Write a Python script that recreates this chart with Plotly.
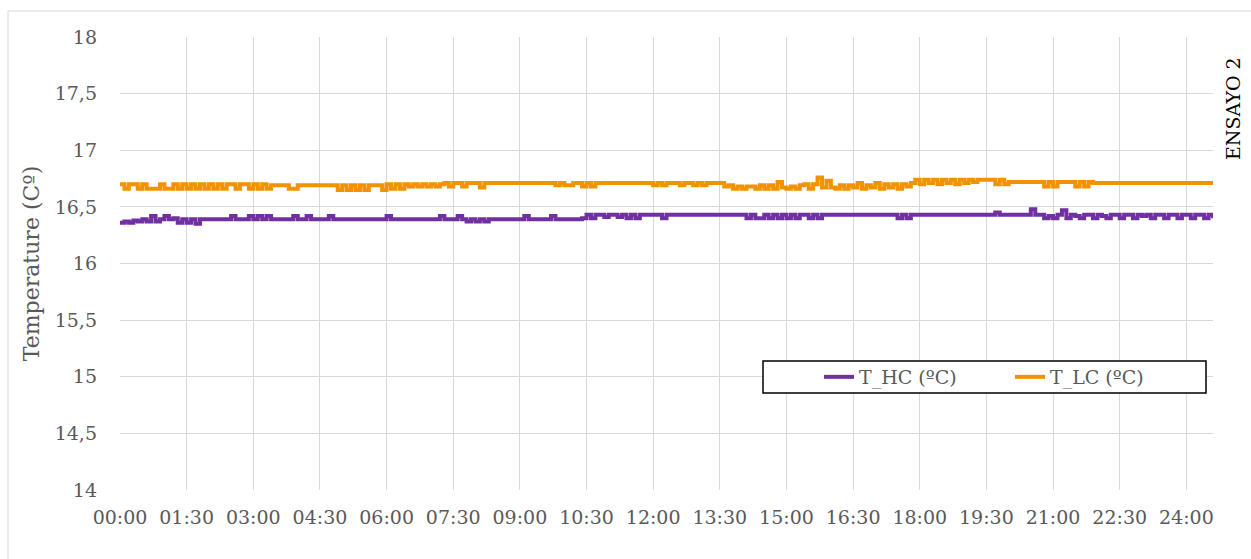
import plotly.graph_objects as go

# Sampling grid: every 0.1 h from 00:00 to 24:36
hours = [round(i * 0.1, 1) for i in range(247)]

t_lc = [
    16.70, 16.66, 16.70, 16.70, 16.66, 16.70, 16.66, 16.66, 16.66, 16.70, 16.66, 16.66, 16.70, 16.66, 16.70,
    16.66, 16.70, 16.66, 16.70, 16.66, 16.70, 16.66, 16.70, 16.66, 16.70, 16.70, 16.66, 16.70, 16.70, 16.66,
    16.70, 16.66, 16.70, 16.66, 16.69, 16.69, 16.69, 16.69, 16.66, 16.66, 16.69, 16.69, 16.69, 16.69, 16.69,
    16.69, 16.69, 16.69, 16.69, 16.65, 16.69, 16.65, 16.69, 16.65, 16.69, 16.65, 16.69, 16.69, 16.69, 16.65,
    16.70, 16.66, 16.70, 16.66, 16.70, 16.68, 16.70, 16.68, 16.70, 16.68, 16.70, 16.68, 16.70, 16.71, 16.68,
    16.71, 16.71, 16.68, 16.71, 16.71, 16.71, 16.67, 16.71, 16.71, 16.71, 16.71, 16.71, 16.71, 16.71, 16.71,
    16.71, 16.71, 16.71, 16.71, 16.71, 16.71, 16.71, 16.71, 16.69, 16.71, 16.69, 16.69, 16.71, 16.71, 16.68,
    16.71, 16.68, 16.71, 16.71, 16.71, 16.71, 16.71, 16.71, 16.71, 16.71, 16.71, 16.71, 16.71, 16.71, 16.71,
    16.69, 16.71, 16.69, 16.71, 16.71, 16.71, 16.69, 16.71, 16.71, 16.69, 16.71, 16.69, 16.71, 16.71, 16.71,
    16.71, 16.68, 16.69, 16.66, 16.68, 16.66, 16.68, 16.68, 16.66, 16.69, 16.66, 16.69, 16.66, 16.72, 16.67,
    16.66, 16.68, 16.66, 16.69, 16.70, 16.66, 16.70, 16.76, 16.67, 16.73, 16.67, 16.66, 16.69, 16.66, 16.69,
    16.67, 16.71, 16.66, 16.69, 16.67, 16.71, 16.66, 16.70, 16.67, 16.70, 16.66, 16.70, 16.68, 16.71, 16.74,
    16.70, 16.74, 16.71, 16.74, 16.70, 16.74, 16.71, 16.74, 16.70, 16.74, 16.71, 16.74, 16.72, 16.74, 16.74,
    16.74, 16.74, 16.70, 16.74, 16.70, 16.72, 16.72, 16.72, 16.72, 16.72, 16.72, 16.72, 16.72, 16.68, 16.72,
    16.68, 16.72, 16.72, 16.72, 16.72, 16.68, 16.72, 16.68, 16.72, 16.71, 16.71, 16.71, 16.71, 16.71, 16.71,
    16.71, 16.71, 16.71, 16.71, 16.71, 16.71, 16.71, 16.71, 16.71, 16.71, 16.71, 16.71, 16.71, 16.71, 16.71,
    16.71, 16.71, 16.71, 16.71, 16.71, 16.71, 16.71,
]

t_hc = [
    16.36, 16.37, 16.36, 16.38, 16.37, 16.39, 16.37, 16.42, 16.37, 16.39, 16.42, 16.39, 16.40, 16.36, 16.39,
    16.36, 16.39, 16.35, 16.39, 16.39, 16.39, 16.39, 16.39, 16.39, 16.39, 16.42, 16.39, 16.39, 16.39, 16.42,
    16.39, 16.42, 16.39, 16.42, 16.39, 16.39, 16.39, 16.39, 16.39, 16.42, 16.39, 16.39, 16.42, 16.39, 16.39,
    16.39, 16.39, 16.42, 16.39, 16.39, 16.39, 16.39, 16.39, 16.39, 16.39, 16.39, 16.39, 16.39, 16.39, 16.39,
    16.42, 16.39, 16.39, 16.39, 16.39, 16.39, 16.39, 16.39, 16.39, 16.39, 16.39, 16.39, 16.42, 16.39, 16.39,
    16.39, 16.42, 16.39, 16.37, 16.39, 16.37, 16.39, 16.37, 16.39, 16.39, 16.39, 16.39, 16.39, 16.39, 16.39,
    16.39, 16.42, 16.39, 16.39, 16.39, 16.39, 16.39, 16.42, 16.39, 16.39, 16.39, 16.39, 16.39, 16.39, 16.40,
    16.43, 16.40, 16.43, 16.43, 16.41, 16.43, 16.43, 16.41, 16.43, 16.40, 16.43, 16.40, 16.43, 16.43, 16.43,
    16.43, 16.43, 16.40, 16.43, 16.43, 16.43, 16.43, 16.43, 16.43, 16.43, 16.43, 16.43, 16.43, 16.43, 16.43,
    16.43, 16.43, 16.43, 16.43, 16.43, 16.43, 16.40, 16.43, 16.40, 16.40, 16.43, 16.40, 16.43, 16.40, 16.43,
    16.40, 16.43, 16.40, 16.43, 16.43, 16.40, 16.43, 16.40, 16.43, 16.43, 16.43, 16.43, 16.43, 16.43, 16.43,
    16.43, 16.43, 16.43, 16.43, 16.43, 16.43, 16.43, 16.43, 16.43, 16.43, 16.40, 16.43, 16.40, 16.43, 16.43,
    16.43, 16.43, 16.43, 16.43, 16.43, 16.43, 16.43, 16.43, 16.43, 16.43, 16.43, 16.43, 16.43, 16.43, 16.43,
    16.43, 16.43, 16.45, 16.43, 16.43, 16.43, 16.43, 16.43, 16.43, 16.43, 16.48, 16.43, 16.43, 16.40, 16.42,
    16.40, 16.43, 16.47, 16.40, 16.43, 16.42, 16.40, 16.43, 16.43, 16.40, 16.43, 16.42, 16.40, 16.43, 16.43,
    16.40, 16.43, 16.43, 16.40, 16.43, 16.42, 16.43, 16.40, 16.43, 16.43, 16.40, 16.43, 16.43, 16.40, 16.43,
    16.43, 16.40, 16.43, 16.43, 16.40, 16.43, 16.40,
]

x_tickvals = [0, 1.5, 3, 4.5, 6, 7.5, 9, 10.5, 12, 13.5, 15, 16.5, 18, 19.5, 21, 22.5, 24]
x_ticktext = ["00:00", "01:30", "03:00", "04:30", "06:00", "07:30", "09:00", "10:30", "12:00",
              "13:30", "15:00", "16:30", "18:00", "19:30", "21:00", "22:30", "24:00"]

FONT = "DejaVu Serif"
GREY = "#595959"
GRID = "#d9d9d9"

fig = go.Figure()
fig.add_trace(go.Scatter(x=hours, y=t_hc, mode="lines", name="T_HC (ºC)",
                         line=dict(color="#7030A0", width=4, shape="hv")))
fig.add_trace(go.Scatter(x=hours, y=t_lc, mode="lines", name="T_LC (ºC)",
                         line=dict(color="#F39200", width=4, shape="hv")))

W, H = 1251, 559
L, R, T, B = 120, 38, 37, 69
pw, ph = W - L - R, H - T - B

def px(x):
    return (x - L) / pw

def py(y):
    return (H - B - y) / ph

shapes = [
    # outer chart border
    dict(type="rect", xref="paper", yref="paper", x0=px(8), x1=px(1300), y0=py(620), y1=py(11),
         line=dict(color=GRID, width=1), fillcolor="rgba(0,0,0,0)", layer="below"),
    # legend box
    dict(type="rect", xref="paper", yref="paper", x0=px(763), x1=px(1206), y0=py(393), y1=py(361),
         line=dict(color="black", width=1.5), fillcolor="white", layer="above"),
]

fig.update_layout(
    width=W, height=H,
    margin=dict(l=L, r=R, t=T, b=B),
    paper_bgcolor="white", plot_bgcolor="white",
    separators=",.",
    font=dict(family=FONT, color=GREY, size=19),
    showlegend=True,
    legend=dict(orientation="h", x=px(819), y=py(377), xanchor="left", yanchor="middle",
                bgcolor="rgba(0,0,0,0)", borderwidth=0,
                font=dict(family=FONT, size=19, color=GREY),
                entrywidth=146, entrywidthmode="pixels", traceorder="normal"),
    shapes=shapes,
    annotations=[dict(text="ENSAYO 2", xref="paper", yref="paper", x=px(1233), y=py(108),
                      xanchor="center", yanchor="middle",
                      showarrow=False, textangle=-90, font=dict(family=FONT, size=19, color="black"))],
)

fig.update_xaxes(range=[0, 24.6], tickmode="array", tickvals=x_tickvals, ticktext=x_ticktext,
                 showgrid=True, gridcolor=GRID, gridwidth=1, zeroline=False,
                 showline=False, ticks="", ticklabelstandoff=14,
                 tickfont=dict(family=FONT, size=19, color=GREY))
fig.update_yaxes(range=[14, 18], dtick=0.5, tick0=14, showgrid=True, gridcolor=GRID, gridwidth=1,
                 zeroline=False, showline=False, ticks="", ticklabelstandoff=22,
                 tickfont=dict(family=FONT, size=19, color=GREY),
                 title=dict(text="Temperature (Cº)", standoff=8,
                            font=dict(family=FONT, size=22, color=GREY)))

fig.write_html("out.html")
